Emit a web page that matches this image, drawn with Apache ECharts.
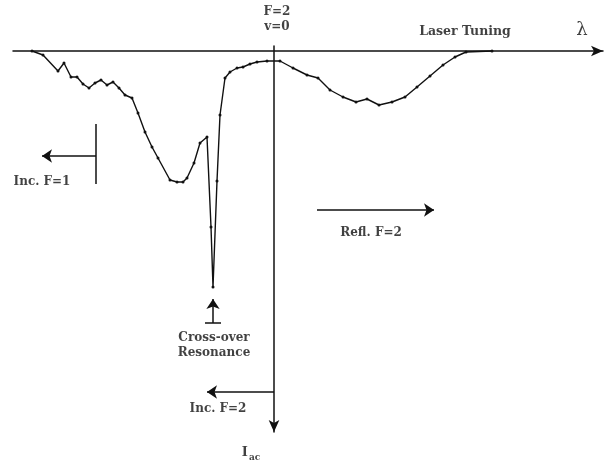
<!DOCTYPE html>
<html>
<head>
<meta charset="utf-8">
<script src="https://cdn.jsdelivr.net/npm/echarts@6/dist/echarts.min.js"></script>
<style>html,body{margin:0;padding:0;background:#fff}#c{width:608px;height:469px}</style>
</head>
<body>
<div id="c"></div>
<script>
// Laser tuning (arbitrary units, 0 at F=2, v=0)
const tuning = [-24.2,-23.1,-21.6,-21.0,-20.3,-19.7,-19.1,-18.5,-17.9,-17.3,-16.7,-16.1,-15.5,-14.9,-14.2,-13.6,-12.9,-12.2,-11.6,-10.4,-9.7,-9.1,-8.7,-8.0,-7.4,-6.7,-6.3,-6.1,-5.7,-5.4,-4.9,-4.4,-3.7,-3.1,-2.4,-1.7,-0.7,0.6,1.9,3.3,4.4,5.6,6.9,8.2,9.3,10.5,11.8,13.1,14.3,15.6,16.9,18.1,19.2,21.8];
// I_ac signal (arbitrary units, downward = larger absorption)
const signal = [0,-0.4,-2.0,-1.2,-2.6,-2.6,-3.3,-3.7,-3.2,-2.9,-3.4,-3.1,-3.7,-4.4,-4.7,-6.2,-8.1,-9.6,-10.7,-12.9,-13.1,-13.1,-12.7,-11.2,-9.2,-8.6,-17.6,-23.6,-13.0,-6.4,-2.7,-2.1,-1.7,-1.6,-1.3,-1.1,-1.0,-1.0,-1.7,-2.4,-2.7,-3.9,-4.6,-5.1,-4.8,-5.4,-5.1,-4.6,-3.6,-2.5,-1.4,-0.6,-0.1,0];

// annotation texts and their anchor positions (data units)
const labelTexts = ["F=2","v=0","Laser Tuning","λ","Inc. F=1","Refl. F=2","Cross-over","Resonance","Inc. F=2","I"];
const labelX = [0.3,0.3,19.1,30.8,-23.2,9.7,-6.0,-6.0,-5.6,-2.3];
const labelY = [3.9,2.4,1.9,2.1,-13.1,-18.2,-28.7,-30.2,-35.8,-40.2];
const labelSize = [12,12,12.5,18,12,12,12,12,12,13];

// annotation arrows / bars: [x1,y1,x2,y2,hasArrow]
const arrowSegs = [
  [-17.8,-7.3,-17.8,-13.3,0],
  [-17.8,-10.5,-23.2,-10.5,1],
  [4.3,-15.9,16.0,-15.9,1],
  [-6.1,-27.2,-6.1,-24.8,1],
  [-6.9,-27.2,-5.3,-27.2,0],
  [0,-34.1,-6.7,-34.1,1]
];

const chart = echarts.init(document.getElementById('c'));
const font = 'DejaVu Serif';
const labelData = labelTexts.map((t,i)=>({
  value:[labelX[i],labelY[i]],
  label:{formatter: t==='I' ? '{i|I}{s|ac}' : t, fontSize: labelSize[i],
    fontWeight: t==='λ' ? 'normal' : 'bold',
    rich:{i:{fontSize:13,fontWeight:'bold',fontFamily:font,color:'#111'},s:{fontSize:9,fontWeight:'bold',fontFamily:font,color:'#111',padding:[10,0,0,1]}}}
}));
const segData = arrowSegs.map(s=>({coords:[[s[0],s[1]],[s[2],s[3]]], symbol: s[4] ? ['none','arrow'] : ['none','none']}));

chart.setOption({
  animation:false,
  backgroundColor:'#fff',
  grid:{left:13,right:5,top:46,bottom:37},
  xAxis:{type:'value',min:-26.1,max:32.9,
    axisLine:{onZero:true,symbol:['none','arrow'],symbolSize:[8,12],lineStyle:{color:'#111',width:1.5}},
    axisTick:{show:false},axisLabel:{show:false},splitLine:{show:false}},
  yAxis:{type:'value',min:-38.1,max:0.5,
    axisLine:{onZero:true,symbol:['arrow','none'],symbolSize:[8,12],lineStyle:{color:'#111',width:1.5}},
    axisTick:{show:false},axisLabel:{show:false},splitLine:{show:false}},
  series:[
    {type:'line',data:tuning.map((x,i)=>[x,signal[i]]),symbol:'circle',symbolSize:3,showSymbol:true,
     lineStyle:{color:'#111',width:1.4},itemStyle:{color:'#111'},z:5},
    {type:'lines',coordinateSystem:'cartesian2d',data:segData,symbolSize:[8,10],
     lineStyle:{color:'#111',width:1.5,opacity:1},z:4},
    {type:'scatter',data:labelData,symbolSize:0,clip:false,
     label:{show:true,position:[0,0],align:'center',verticalAlign:'middle',fontFamily:font,fontWeight:'bold',color:'#111'}}
  ]
});
</script>
</body>
</html>
